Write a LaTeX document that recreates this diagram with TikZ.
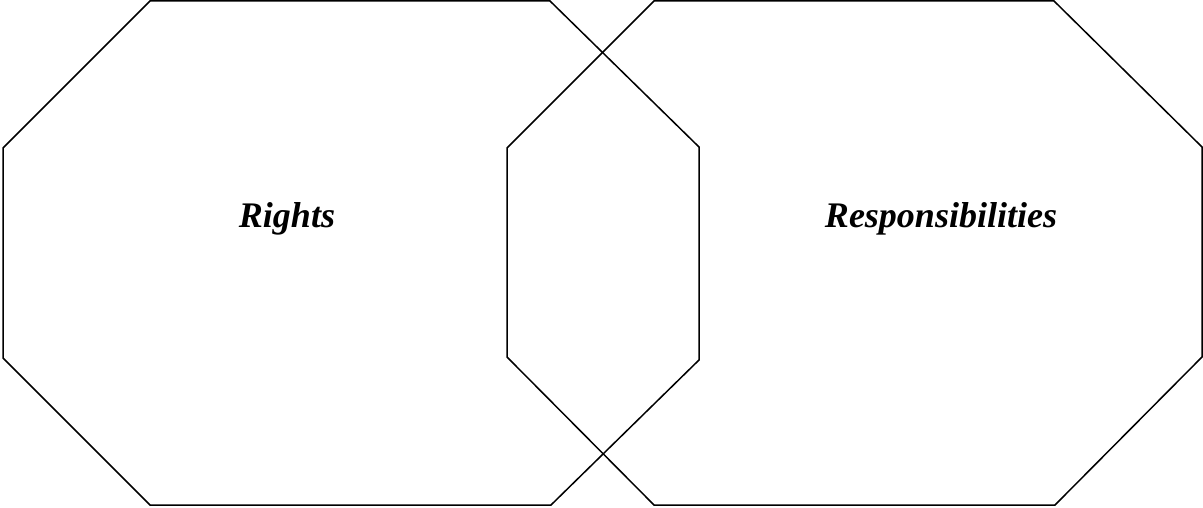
\documentclass[tikz,border=0pt]{standalone}
\usepackage{fontspec}
\setmainfont{Liberation Serif}
\begin{document}
\begin{tikzpicture}[x=1pt,y=-1pt,
  octa/.style={draw=black,line width=1.5pt,line join=miter},
  lbl/.style={font=\fontsize{36}{40}\selectfont\bfseries\itshape,anchor=base,inner sep=0pt}]
\useasboundingbox (0,0) rectangle (1203,508);
% left octagon
\draw[octa] (150,1) -- (550,1) -- (699,147) -- (699,360) -- (551,505) -- (150,505) -- (3,358) -- (3,148) -- cycle;
% right octagon
\draw[octa] (654,1) -- (1054,1) -- (1202,147) -- (1202,357) -- (1055,505) -- (654,505) -- (507,357) -- (507,148) -- cycle;
\node[lbl] (rights) at (287,228) {Rights};
\node[lbl] (resp) at (941,228) {Responsibilities};
\end{tikzpicture}
\end{document}
